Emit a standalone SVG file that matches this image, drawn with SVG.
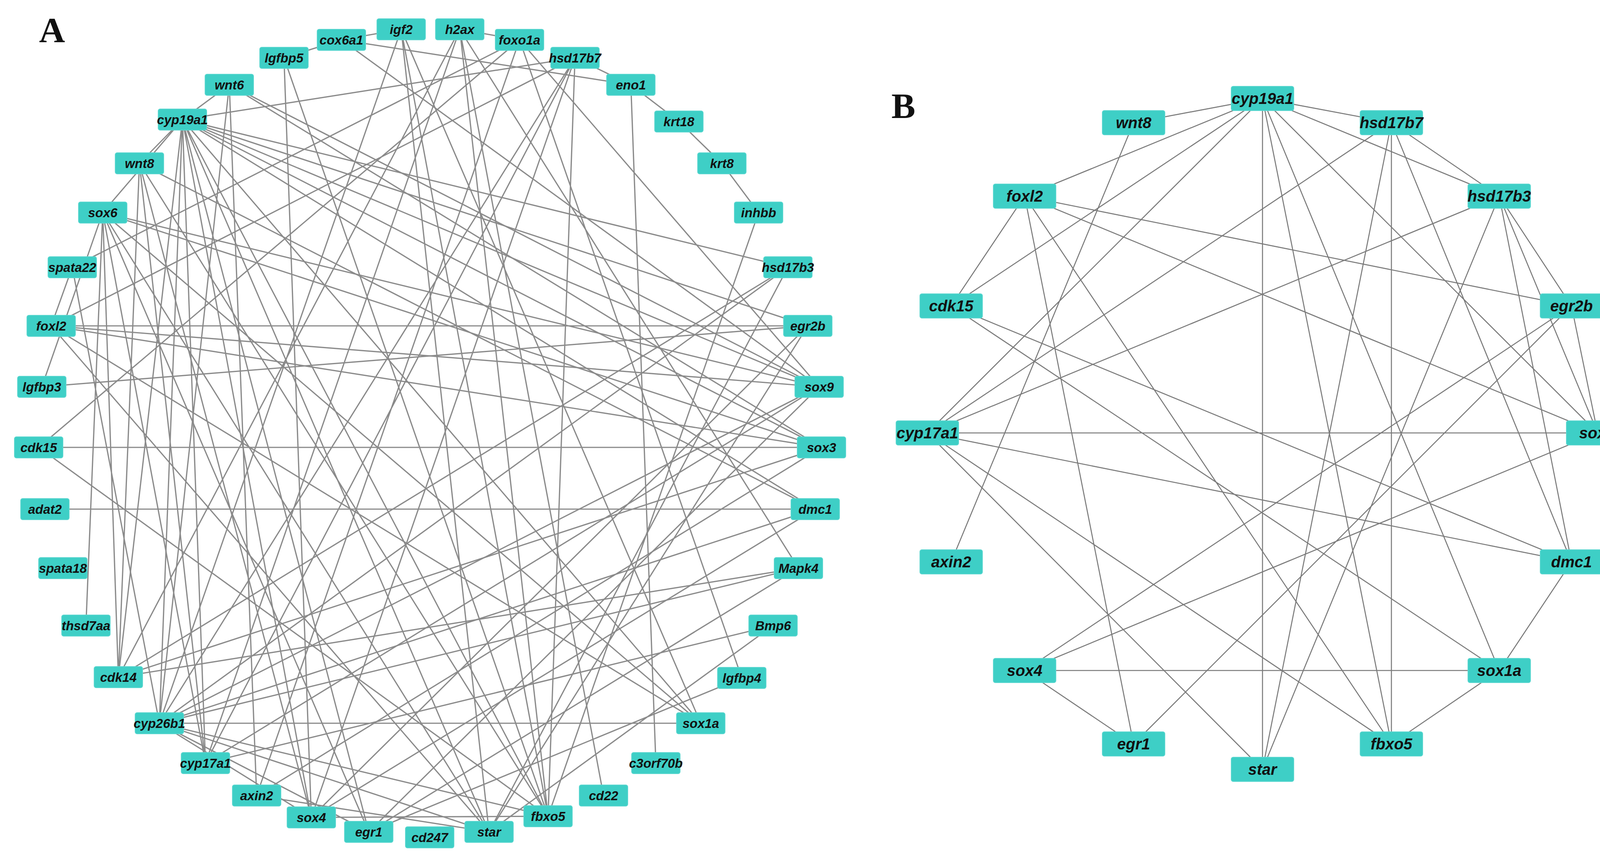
<svg xmlns="http://www.w3.org/2000/svg" width="4205" height="2201" viewBox="0 0 4205 2201">
<style>
.e{stroke:#8a8a8a;stroke-width:3.2;fill:none}
.f{stroke:#7a7a7a;stroke-width:2.6;fill:none}
.n rect{fill:#3ecfc6;stroke:#5ad6cf;stroke-width:2}
.a text{font-family:"Liberation Sans",Arial,sans-serif;font-style:italic;font-weight:bold;font-size:33px;fill:#111;text-anchor:middle;dominant-baseline:central}
.b text{font-family:"Liberation Sans",Arial,sans-serif;font-style:italic;font-weight:bold;font-size:40px;fill:#111;text-anchor:middle;dominant-baseline:central}
.lab{font-family:"Liberation Serif","Times New Roman",serif;font-weight:bold;font-size:92px;fill:#111}
</style>
<rect width="4205" height="2201" fill="#fff"/>
<text class="lab" x="100" y="108">A</text>
<text class="lab" x="2282" y="302">B</text>
<g id="edges-A">
<path class="e" d="M467 306L587 217M467 306L357 418M467 306L263 544M467 306L303 1733M467 306L408 1851M467 306L526 1953M467 306L797 2092M467 306L1252 2129M467 306L1403 2089M467 306L1794 1851M467 306L2087 1303M467 306L2103 1145M467 306L2097 990M467 306L2068 834M467 306L2017 684M467 306L1472 148M467 306L944 2129"/>
<path class="e" d="M587 217L408 1851M587 217L2097 990M587 217L657 2036M587 217L2103 1145M727 148L797 2092M727 148L1403 2089M727 148L874 102M874 102L1615 217M874 102L2097 990M874 102L1027 75"/>
<path class="e" d="M1027 75L408 1851M1027 75L1252 2129M1027 75L1794 1851M1027 75L1403 2089M1177 75L303 1733M1177 75L526 1953M1177 75L1403 2089M1177 75L1545 2036M1177 75L2044 1454M1177 75L1330 102"/>
<path class="e" d="M1330 102L99 1145M1330 102L185 684M1330 102L657 2036M1330 102L2097 990M1330 102L1899 1735M1472 148L131 834M1472 148L408 1851M1472 148L526 1953M1472 148L797 2092M1472 148L1403 2089M1472 148L1615 217"/>
<path class="e" d="M1615 217L1738 311M1615 217L1679 1953M1738 311L1848 418M1848 418L1942 544M1942 544L1403 2089M2017 684L408 1851M2017 684L303 1733M2017 684L1252 2129"/>
<path class="e" d="M2068 834L131 834M2068 834L797 2092M2068 834L1252 2129M2068 834L107 990M2097 990L131 834M2097 990L263 544M2097 990L408 1851M2097 990L944 2129M2097 990L526 1953"/>
<path class="e" d="M2103 1145L99 1145M2103 1145L263 544M2103 1145L303 1733M2103 1145L657 2036M2103 1145L131 834M2087 1303L115 1303M2087 1303L408 1851M2087 1303L797 2092M2087 1303L357 418"/>
<path class="e" d="M2044 1454L408 1851M2044 1454L303 1733M2044 1454L944 2129M1979 1601L526 1953M1979 1601L1252 2129M1899 1735L944 2129M1794 1851L408 1851M1794 1851L263 544M1794 1851L131 834"/>
<path class="e" d="M1403 2089L99 1145M1403 2089L797 2092M1403 2089L408 1851M1403 2089L357 418M1252 2129L263 544M1252 2129L408 1851M1252 2129L657 2036M1252 2129L131 834M944 2129L263 544M944 2129L408 1851"/>
<path class="e" d="M797 2092L408 1851M797 2092L357 418M526 1953L357 418M526 1953L263 544M303 1733L357 418M303 1733L263 544M185 684L131 834M185 684L408 1851M107 990L263 544M220 1601L263 544"/>
</g>
<g id="edges-B">
<path class="f" d="M3232 252L2902 314M3232 252L3562 314M3232 252L3838 502M3232 252L2623 502M3232 252L2435 783M3232 252L2374 1108M3232 252L3232 1969M3232 252L3562 1904M3232 252L3838 1716M3232 252L4090 1108"/>
<path class="f" d="M3562 314L3838 502M3562 314L2374 1108M3562 314L3562 1904M3562 314L3232 1969M3562 314L4023 1438M3838 502L4023 783M3838 502L4023 1438M3838 502L2374 1108M3838 502L3232 1969M3838 502L4090 1108M2902 314L2435 1438"/>
<path class="f" d="M2623 502L2435 783M2623 502L4023 783M2623 502L4090 1108M2623 502L3562 1904M2623 502L2902 1904M2435 783L4023 1438M2435 783L3838 1716M2374 1108L4090 1108M2374 1108L4023 1438M2374 1108L3232 1969M2374 1108L3562 1904"/>
<path class="f" d="M4023 783L4090 1108M4023 783L2623 1716M4023 783L2902 1904M4090 1108L2623 1716M2623 1716L3838 1716M2623 1716L2902 1904M3838 1716L3562 1904M3838 1716L4023 1438"/>
</g>
<g class="a">
<g id="cox6a1" class="n"><rect x="812" y="75" width="124" height="54" rx="5"/><text x="874" y="102">cox6a1</text></g>
<g id="igf2" class="n"><rect x="965" y="48" width="124" height="54" rx="5"/><text x="1027" y="75">igf2</text></g>
<g id="h2ax" class="n"><rect x="1115" y="48" width="124" height="54" rx="5"/><text x="1177" y="75">h2ax</text></g>
<g id="foxo1a" class="n"><rect x="1268" y="75" width="124" height="54" rx="5"/><text x="1330" y="102">foxo1a</text></g>
<g id="hsd17b7-A" class="n"><rect x="1410" y="121" width="124" height="54" rx="5"/><text x="1472" y="148">hsd17b7</text></g>
<g id="eno1" class="n"><rect x="1553" y="190" width="124" height="54" rx="5"/><text x="1615" y="217">eno1</text></g>
<g id="krt18" class="n"><rect x="1676" y="284" width="124" height="54" rx="5"/><text x="1738" y="311">krt18</text></g>
<g id="krt8" class="n"><rect x="1786" y="391" width="124" height="54" rx="5"/><text x="1848" y="418">krt8</text></g>
<g id="inhbb" class="n"><rect x="1880" y="517" width="124" height="54" rx="5"/><text x="1942" y="544">inhbb</text></g>
<g id="hsd17b3-A" class="n"><rect x="1955" y="657" width="124" height="54" rx="5"/><text x="2017" y="684">hsd17b3</text></g>
<g id="egr2b-A" class="n"><rect x="2006" y="807" width="124" height="54" rx="5"/><text x="2068" y="834">egr2b</text></g>
<g id="sox9" class="n"><rect x="2035" y="963" width="124" height="54" rx="5"/><text x="2097" y="990">sox9</text></g>
<g id="sox3-A" class="n"><rect x="2041" y="1118" width="124" height="54" rx="5"/><text x="2103" y="1145">sox3</text></g>
<g id="dmc1-A" class="n"><rect x="2025" y="1276" width="124" height="54" rx="5"/><text x="2087" y="1303">dmc1</text></g>
<g id="Mapk4" class="n"><rect x="1982" y="1427" width="124" height="54" rx="5"/><text x="2044" y="1454">Mapk4</text></g>
<g id="Bmp6" class="n"><rect x="1917" y="1574" width="124" height="54" rx="5"/><text x="1979" y="1601">Bmp6</text></g>
<g id="lgfbp4" class="n"><rect x="1837" y="1708" width="124" height="54" rx="5"/><text x="1899" y="1735">lgfbp4</text></g>
<g id="sox1a-A" class="n"><rect x="1732" y="1824" width="124" height="54" rx="5"/><text x="1794" y="1851">sox1a</text></g>
<g id="c3orf70b" class="n"><rect x="1617" y="1926" width="124" height="54" rx="5"/><text x="1679" y="1953">c3orf70b</text></g>
<g id="cd22" class="n"><rect x="1483" y="2009" width="124" height="54" rx="5"/><text x="1545" y="2036">cd22</text></g>
<g id="fbxo5-A" class="n"><rect x="1341" y="2062" width="124" height="54" rx="5"/><text x="1403" y="2089">fbxo5</text></g>
<g id="star-A" class="n"><rect x="1190" y="2102" width="124" height="54" rx="5"/><text x="1252" y="2129">star</text></g>
<g id="cd247" class="n"><rect x="1038" y="2116" width="124" height="54" rx="5"/><text x="1100" y="2143">cd247</text></g>
<g id="egr1-A" class="n"><rect x="882" y="2102" width="124" height="54" rx="5"/><text x="944" y="2129">egr1</text></g>
<g id="sox4-A" class="n"><rect x="735" y="2065" width="124" height="54" rx="5"/><text x="797" y="2092">sox4</text></g>
<g id="axin2-A" class="n"><rect x="595" y="2009" width="124" height="54" rx="5"/><text x="657" y="2036">axin2</text></g>
<g id="cyp17a1-A" class="n"><rect x="464" y="1926" width="124" height="54" rx="5"/><text x="526" y="1953">cyp17a1</text></g>
<g id="cyp26b1" class="n"><rect x="346" y="1824" width="124" height="54" rx="5"/><text x="408" y="1851">cyp26b1</text></g>
<g id="cdk14" class="n"><rect x="241" y="1706" width="124" height="54" rx="5"/><text x="303" y="1733">cdk14</text></g>
<g id="thsd7aa" class="n"><rect x="158" y="1574" width="124" height="54" rx="5"/><text x="220" y="1601">thsd7aa</text></g>
<g id="spata18" class="n"><rect x="99" y="1427" width="124" height="54" rx="5"/><text x="161" y="1454">spata18</text></g>
<g id="adat2" class="n"><rect x="53" y="1276" width="124" height="54" rx="5"/><text x="115" y="1303">adat2</text></g>
<g id="cdk15-A" class="n"><rect x="37" y="1118" width="124" height="54" rx="5"/><text x="99" y="1145">cdk15</text></g>
<g id="lgfbp3" class="n"><rect x="45" y="963" width="124" height="54" rx="5"/><text x="107" y="990">lgfbp3</text></g>
<g id="foxl2-A" class="n"><rect x="69" y="807" width="124" height="54" rx="5"/><text x="131" y="834">foxl2</text></g>
<g id="spata22" class="n"><rect x="123" y="657" width="124" height="54" rx="5"/><text x="185" y="684">spata22</text></g>
<g id="sox6" class="n"><rect x="201" y="517" width="124" height="54" rx="5"/><text x="263" y="544">sox6</text></g>
<g id="wnt8-A" class="n"><rect x="295" y="391" width="124" height="54" rx="5"/><text x="357" y="418">wnt8</text></g>
<g id="cyp19a1-A" class="n"><rect x="405" y="279" width="124" height="54" rx="5"/><text x="467" y="306">cyp19a1</text></g>
<g id="wnt6" class="n"><rect x="525" y="190" width="124" height="54" rx="5"/><text x="587" y="217">wnt6</text></g>
<g id="lgfbp5" class="n"><rect x="665" y="121" width="124" height="54" rx="5"/><text x="727" y="148">lgfbp5</text></g>
</g>
<g class="b">
<g id="cyp19a1-B" class="n"><rect x="3152" y="221" width="160" height="62" rx="5"/><text x="3232" y="252">cyp19a1</text></g>
<g id="hsd17b7-B" class="n"><rect x="3482" y="283" width="160" height="62" rx="5"/><text x="3562" y="314">hsd17b7</text></g>
<g id="wnt8-B" class="n"><rect x="2822" y="283" width="160" height="62" rx="5"/><text x="2902" y="314">wnt8</text></g>
<g id="hsd17b3-B" class="n"><rect x="3758" y="471" width="160" height="62" rx="5"/><text x="3838" y="502">hsd17b3</text></g>
<g id="foxl2-B" class="n"><rect x="2543" y="471" width="160" height="62" rx="5"/><text x="2623" y="502">foxl2</text></g>
<g id="egr2b-B" class="n"><rect x="3943" y="752" width="160" height="62" rx="5"/><text x="4023" y="783">egr2b</text></g>
<g id="cdk15-B" class="n"><rect x="2355" y="752" width="160" height="62" rx="5"/><text x="2435" y="783">cdk15</text></g>
<g id="sox3-B" class="n"><rect x="4010" y="1077" width="156" height="62" rx="5"/><text x="4088" y="1108">sox3</text></g>
<g id="cyp17a1-B" class="n"><rect x="2294" y="1077" width="160" height="62" rx="5"/><text x="2374" y="1108">cyp17a1</text></g>
<g id="dmc1-B" class="n"><rect x="3943" y="1407" width="160" height="62" rx="5"/><text x="4023" y="1438">dmc1</text></g>
<g id="axin2-B" class="n"><rect x="2355" y="1407" width="160" height="62" rx="5"/><text x="2435" y="1438">axin2</text></g>
<g id="sox1a-B" class="n"><rect x="3758" y="1685" width="160" height="62" rx="5"/><text x="3838" y="1716">sox1a</text></g>
<g id="sox4-B" class="n"><rect x="2543" y="1685" width="160" height="62" rx="5"/><text x="2623" y="1716">sox4</text></g>
<g id="fbxo5-B" class="n"><rect x="3482" y="1873" width="160" height="62" rx="5"/><text x="3562" y="1904">fbxo5</text></g>
<g id="egr1-B" class="n"><rect x="2822" y="1873" width="160" height="62" rx="5"/><text x="2902" y="1904">egr1</text></g>
<g id="star-B" class="n"><rect x="3152" y="1938" width="160" height="62" rx="5"/><text x="3232" y="1969">star</text></g>
</g>
</svg>
